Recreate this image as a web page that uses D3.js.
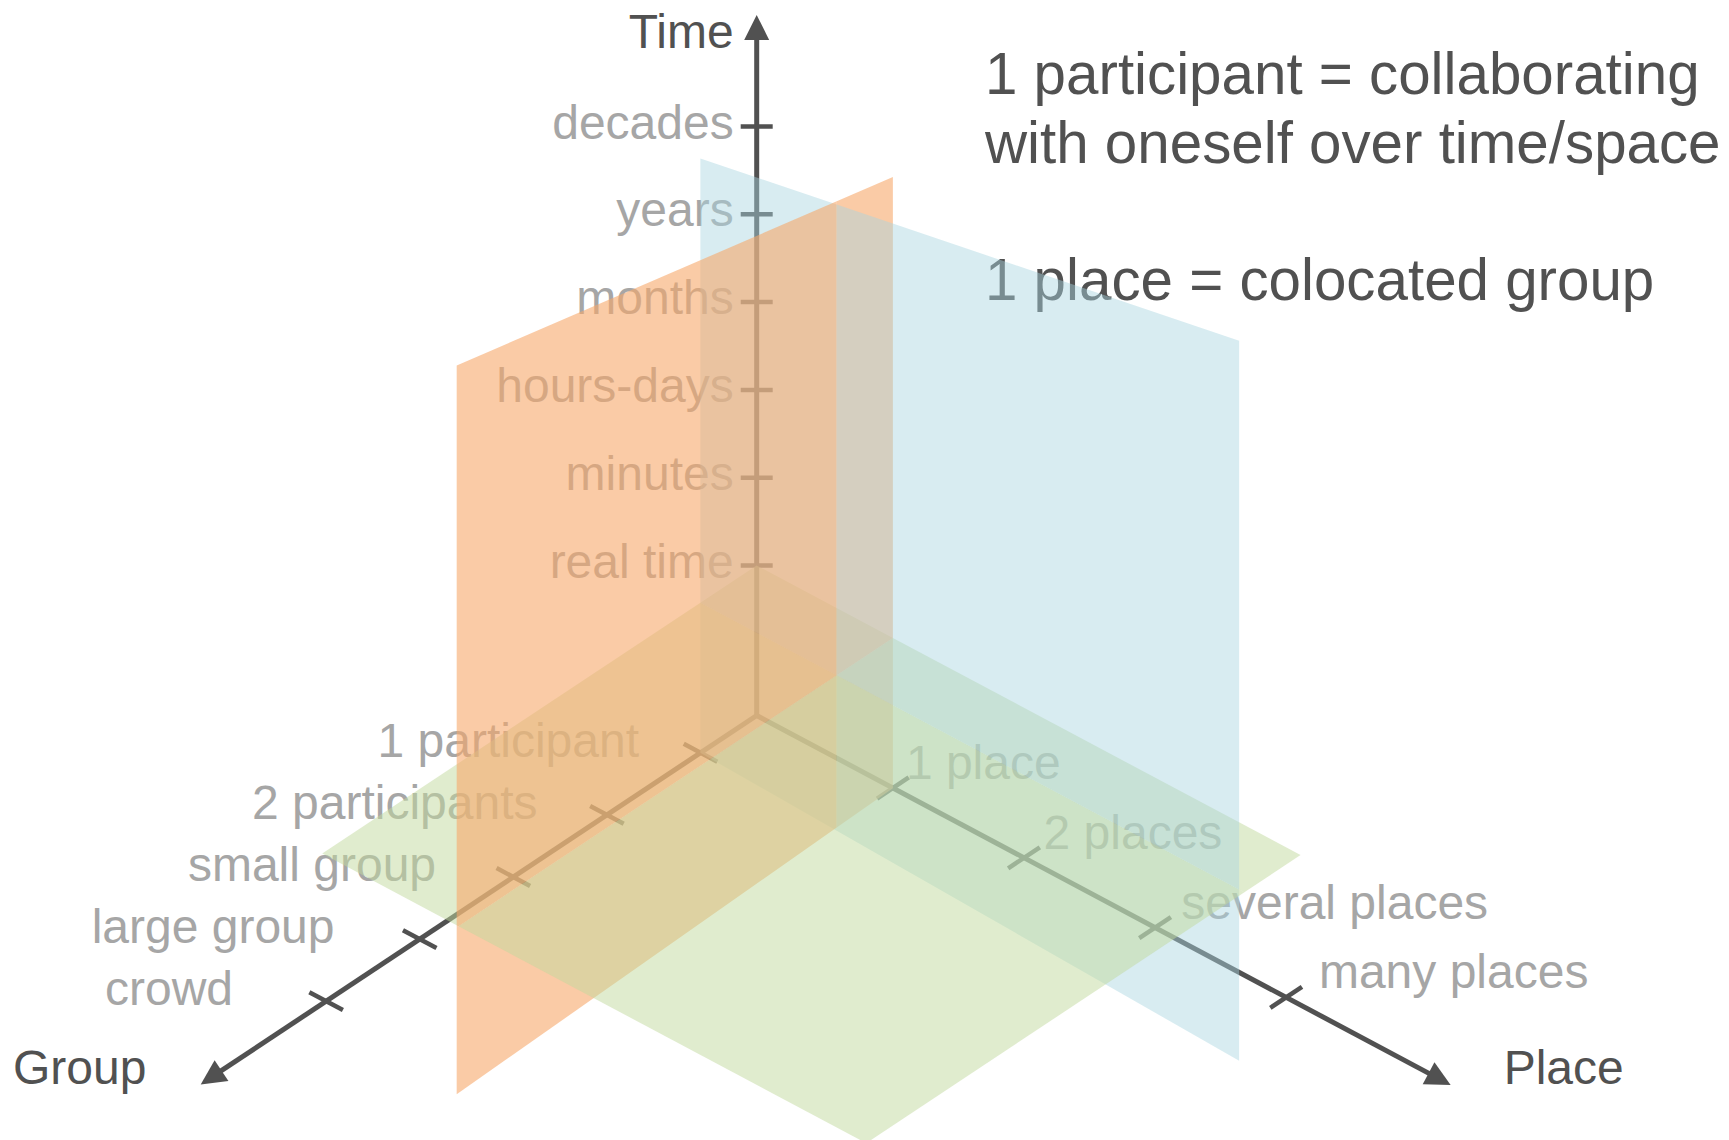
<!DOCTYPE html>
<html><head><meta charset="utf-8">
<script src="https://cdn.jsdelivr.net/npm/d3@7"></script>
<style>
body{margin:0;background:#fff}
svg{display:block}
text{font-family:"Liberation Sans", Arial, Helvetica, sans-serif}
</style>
</head><body>
<svg id="chart" width="1729" height="1140"></svg>
<script>
// ---------- data ----------
const timeLevels  = ["real time", "minutes", "hours-days", "months", "years", "decades"];
const groupLevels = ["1 participant", "2 participants", "small group", "large group", "crowd"];
const placeLevels = ["1 place", "2 places", "several places", "many places"];
const axisNames   = { group: "Group", place: "Place", time: "Time" };
const noteLines   = ["1 participant = collaborating", "with oneself over time/space", "", "1 place = colocated group"];

// axis extents (tip of arrow) in level-index units
const axisEnd = { group: 5.34, place: 4.255, time: 6.27 };

// planes: corners in level-index units (g = group, p = place, t = time)
const greenPlane  = [ {g:-0.6, p:-1.04, t:0}, {g:-0.6, p:3.11, t:0}, {g:4.04, p:3.11, t:0}, {g:4.04, p:-1.04, t:0} ];
const orangePlane = [ {g:-0.6, p:0, t:5.25}, {g:4.06, p:0, t:6.4}, {g:4.06, p:0, t:-1.9}, {g:-0.6, p:0, t:-1.71} ];
const bluePlane   = [ {g:0, p:-1.04, t:5.06}, {g:0, p:3.07, t:6.25}, {g:0, p:3.07, t:-1.95}, {g:0, p:-1.04, t:-1.71} ];

const planes = [
  { corners: greenPlane,  free: ["g", "p"], fill: "rgb(193,217,157)", opacity: 0.5 },
  { corners: orangePlane, free: ["g", "t"], fill: "rgb(246,169,107)", opacity: 0.6 },
  { corners: bluePlane,   free: ["p", "t"], fill: "rgb(168,213,224)", opacity: 0.45 }
];

// ---------- projection ----------
const O  = [756.7, 715.5];
const GU = [-0.8335, 0.553];
const PU = [0.8827, 0.4699];
const gS = d3.scaleLinear().domain([0, groupLevels.length - 1]).range([67.4, 516.6]);
const pS = d3.scaleLinear().domain([0, placeLevels.length - 1]).range([154.3, 599.8]);
const tS = d3.scaleLinear().domain([0, timeLevels.length - 1]).range([150, 589]);
const g0 = gS.invert(0), p0 = pS.invert(0), t0 = tS.invert(0);

function proj(q) {
  const a = gS(q.g), b = pS(q.p), c = tS(q.t);
  return [O[0] + a * GU[0] + b * PU[0], O[1] + a * GU[1] + b * PU[1] - c];
}

const svg = d3.select("#chart");
const dark = "#515151", light = "#a6a6a6";
const FS = 48;

// ---------- axes ----------
const axG = svg.append("g");
function drawAxis(endPt) {
  const s = proj({g:g0, p:p0, t:t0});
  const e = proj(endPt);
  const dx = e[0] - s[0], dy = e[1] - s[1], L = Math.hypot(dx, dy);
  const ux = dx / L, uy = dy / L, len = 25, hw = 12.5;
  const bx = e[0] - ux * len, by = e[1] - uy * len;
  axG.append("line").attr("x1", s[0]).attr("y1", s[1]).attr("x2", bx + ux * 2).attr("y2", by + uy * 2)
    .attr("stroke", dark).attr("stroke-width", 5);
  axG.append("path")
    .attr("d", d3.line()([[e[0], e[1]], [bx - uy * hw, by + ux * hw], [bx + uy * hw, by - ux * hw]]) + "Z")
    .attr("fill", dark);
}
drawAxis({g:axisEnd.group, p:p0, t:t0});
drawAxis({g:g0, p:axisEnd.place, t:t0});
drawAxis({g:g0, p:p0, t:axisEnd.time});

// ticks + labels
const TL = 19;
groupLevels.forEach((name, i) => {
  const c = proj({g:i, p:p0, t:t0});
  axG.append("line").attr("x1", c[0] - PU[0]*TL).attr("y1", c[1] - PU[1]*TL)
    .attr("x2", c[0] + PU[0]*TL).attr("y2", c[1] + PU[1]*TL).attr("stroke", dark).attr("stroke-width", 4.5);
  axG.append("text").attr("x", c[0] - 61.5 - 7.9 * i).attr("y", c[1] + 4).attr("text-anchor", "end")
    .attr("font-size", FS).attr("fill", light).text(name);
});
placeLevels.forEach((name, i) => {
  const c = proj({g:g0, p:i, t:t0});
  axG.append("line").attr("x1", c[0] - GU[0]*TL).attr("y1", c[1] - GU[1]*TL)
    .attr("x2", c[0] + GU[0]*TL).attr("y2", c[1] + GU[1]*TL).attr("stroke", dark).attr("stroke-width", 4.5);
  axG.append("text").attr("x", c[0] + 13 + 6.6 * i).attr("y", c[1] - 9).attr("text-anchor", "start")
    .attr("font-size", FS).attr("fill", light).text(name);
});
timeLevels.forEach((name, i) => {
  const c = proj({g:g0, p:p0, t:i});
  axG.append("line").attr("x1", c[0] - 16).attr("y1", c[1]).attr("x2", c[0] + 16).attr("y2", c[1])
    .attr("stroke", dark).attr("stroke-width", 4.5);
  axG.append("text").attr("x", c[0] - 23).attr("y", c[1] + 12).attr("text-anchor", "end")
    .attr("font-size", FS).attr("fill", light).text(name);
});

// axis titles
const tTip = proj({g:g0, p:p0, t:axisEnd.time});
axG.append("text").attr("x", tTip[0] - 23).attr("y", 48).attr("text-anchor", "end")
  .attr("font-size", FS).attr("fill", dark).text(axisNames.time);
const gTip = proj({g:axisEnd.group, p:p0, t:t0});
axG.append("text").attr("x", 13).attr("y", gTip[1]).attr("text-anchor", "start")
  .attr("font-size", FS).attr("fill", dark).text(axisNames.group);
const pTip = proj({g:g0, p:axisEnd.place, t:t0});
axG.append("text").attr("x", pTip[0] + 53).attr("y", gTip[1]).attr("text-anchor", "start")
  .attr("font-size", FS).attr("fill", dark).text(axisNames.place);

// notes
const note = axG.append("text").attr("x", 985).attr("y", 94).attr("font-size", 58.3).attr("fill", dark);
noteLines.forEach((ln, i) => {
  note.append("tspan").attr("x", 985).attr("y", 94 + i * 68.7).text(ln);
});

// ---------- planes (split at mutual intersections, painter's order) ----------
function clip(poly, k, v, keepAbove) {
  const out = [];
  for (let i = 0; i < poly.length; i++) {
    const a = poly[i], b = poly[(i + 1) % poly.length];
    const ina = keepAbove ? a[k] >= v : a[k] <= v;
    const inb = keepAbove ? b[k] >= v : b[k] <= v;
    if (ina) out.push(a);
    if (ina !== inb) {
      const s = (v - a[k]) / (b[k] - a[k]);
      out.push({g: a.g + s*(b.g - a.g), p: a.p + s*(b.p - a.p), t: a.t + s*(b.t - a.t)});
    }
  }
  return out;
}
const splitAt = { g: 0, p: 0, t: 0 };
const pieces = [];
planes.forEach(pl => {
  const [k1, k2] = pl.free;
  [0, 1].forEach(s1 => [0, 1].forEach(s2 => {
    let poly = clip(pl.corners, k1, splitAt[k1], s1 === 1);
    poly = clip(poly, k2, splitAt[k2], s2 === 1);
    if (poly.length >= 3) pieces.push({ poly, key: s1 + s2, fill: pl.fill, opacity: pl.opacity });
  }));
});
pieces.sort((a, b) => a.key - b.key);
svg.append("g").selectAll("path").data(pieces).join("path")
  .attr("d", d => d3.line()(d.poly.map(proj)) + "Z")
  .attr("fill", d => d.fill).attr("fill-opacity", d => d.opacity);
</script>
</body></html>
